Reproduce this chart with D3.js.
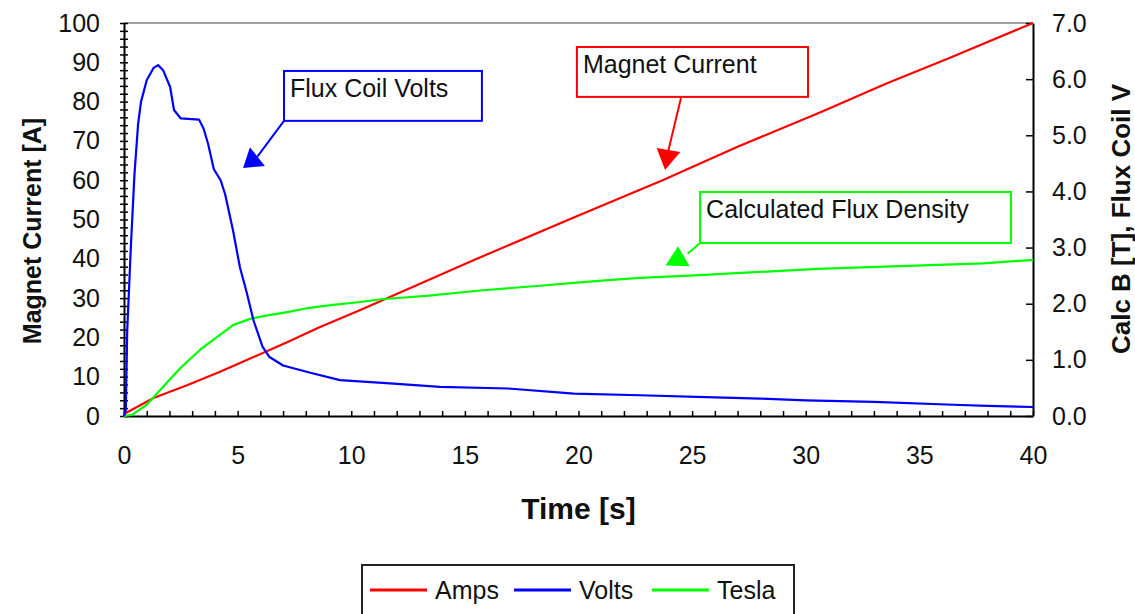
<!DOCTYPE html>
<html>
<head>
<meta charset="utf-8">
<script src="https://cdn.jsdelivr.net/npm/d3@7"></script>
<style>
  body { margin: 0; background: #fff; }
  svg text { font-family: "Liberation Sans", Arial, sans-serif; fill: #111; }
</style>
</head>
<body>
<div id="chart"></div>
<script>
// values
var tAmps = [0, 1.3, 2.8, 4.2, 5.7, 7.2, 8.6, 10.4, 15.4, 20, 23.7, 27, 30.7, 33.5, 36.4, 40];
var amps  = [0.5, 4.6, 7.9, 11.2, 15, 18.8, 22.6, 27, 39.7, 51, 60, 68.5, 77.4, 84.5, 91.3, 100];

var tVolts = [0, 0.08, 0.14, 0.3, 0.46, 0.62, 0.75, 1.0, 1.3, 1.5, 1.72, 2.03, 2.2,
              2.5, 3.3, 3.5, 3.7, 3.95, 4.25, 4.45, 4.8, 5.1, 5.4, 5.7, 6.1, 6.4, 7.0, 8.2,
              9.5, 11.7, 13.9, 16.9, 19.8, 22.7, 25.2, 28, 30, 33, 36.5, 38, 40];
var volts  = [0, 0.1, 1.5, 3.0, 4.3, 5.2, 5.6, 5.98, 6.2, 6.25, 6.16, 5.86, 5.45,
              5.3, 5.28, 5.12, 4.85, 4.4, 4.2, 3.95, 3.3, 2.65, 2.2, 1.7, 1.23, 1.05, 0.9, 0.77,
              0.64, 0.58, 0.52, 0.49, 0.40, 0.37, 0.34, 0.31, 0.28, 0.25, 0.2, 0.18, 0.16];

var tTesla = [0, 0.35, 1.0, 1.72, 2.47, 3.35, 4.1, 4.8, 5.55, 6.12, 7.18, 8.06, 9.2, 10.4,
              11.3, 13.3, 15.8, 18.3, 19.8, 21.3, 22.7, 24.9, 30.5, 37.8, 40];
var tesla  = [0, 0.02, 0.2, 0.52, 0.85, 1.18, 1.41, 1.62, 1.73, 1.78, 1.85, 1.92, 1.98, 2.03,
              2.08, 2.14, 2.24, 2.32, 2.37, 2.42, 2.46, 2.5, 2.62, 2.72, 2.78];

var seriesNames = ["Amps", "Volts", "Tesla"];
var seriesColors = ["#ff0000", "#0000ff", "#00ff00"];

var xTicks = d3.range(0, 41, 5);
var yLeftTicks = d3.range(0, 101, 10);
var yRightTicks = d3.range(0, 7.01, 1);

// callouts, in seconds / amps (left axis units)
var notes = [
  {text: "Flux Coil Volts", color: "#0000ff", box: [7.04, 87.8, 15.75, 75.1],
   from: [7.04, 75.1], to: [5.87, 66.0], tip: [5.24, 63.1], base: [5.87, 66.0]},
  {text: "Magnet Current", color: "#ff0000", box: [19.93, 93.9, 30.1, 81.2],
   from: [24.51, 80.9], to: [23.96, 67.7], tip: [23.81, 62.6], base: [23.96, 67.7]},
  {text: "Calculated Flux Density", color: "#00ff00", box: [25.35, 57.0, 39.03, 44.0],
   from: [25.35, 44.0], to: [24.8, 41.3], tip: [24.38, 43.2], base: [24.36, 38.2]}
];

var W = 1135, H = 614;
var plotLeft = 124, plotRight = 1033, plotTop = 23, plotBottom = 416;

var svg = d3.select("#chart").append("svg")
    .attr("width", W)
    .attr("height", H);

var x = d3.scaleLinear().domain([0, 40]).range([plotLeft, plotRight]);
var yL = d3.scaleLinear().domain([0, 100]).range([plotBottom, plotTop]);
var yR = d3.scaleLinear().domain([0, 7]).range([plotBottom, plotTop]);

// top border of plot area
svg.append("line")
    .attr("x1", plotLeft).attr("x2", plotRight)
    .attr("y1", plotTop).attr("y2", plotTop)
    .attr("stroke", "#808080").attr("stroke-width", 1.5);

// left axis
var gl = svg.append("g")
    .attr("transform", "translate(" + plotLeft + ",0)")
    .call(d3.axisLeft(yL).tickValues(yLeftTicks).tickSize(0).tickPadding(24).tickSizeOuter(0));
gl.selectAll("text").style("font-size", "25px");
var glm = svg.append("g")
    .attr("transform", "translate(" + plotLeft + ",0)")
    .call(d3.axisLeft(yL).tickValues(d3.range(0, 101, 2)).tickFormat("").tickSizeOuter(0));
glm.selectAll(".tick line").attr("x1", -4).attr("x2", 4).attr("stroke-width", 1.5);

// bottom axis
var gb = svg.append("g")
    .attr("transform", "translate(0," + plotBottom + ")")
    .call(d3.axisBottom(x).tickValues(xTicks).tickSize(0).tickPadding(30).tickSizeOuter(0));
gb.selectAll("text").style("font-size", "25px");
var gbm = svg.append("g")
    .attr("transform", "translate(0," + plotBottom + ")")
    .call(d3.axisBottom(x).tickValues(d3.range(0, 41, 1)).tickFormat("").tickSize(-5).tickSizeOuter(0));
gbm.selectAll(".tick line").attr("stroke-width", 1.5);

// right axis
var gr = svg.append("g")
    .attr("transform", "translate(" + plotRight + ",0)")
    .call(d3.axisRight(yR).tickValues(yRightTicks).tickFormat(d3.format(".1f"))
        .tickSize(-7).tickPadding(19).tickSizeOuter(0));
gr.selectAll("text").style("font-size", "25px");
gr.selectAll(".tick line").attr("stroke-width", 1.5);

[gl, gb, gr].forEach(function(g) {
    g.select(".domain").attr("stroke", "#000").attr("stroke-width", 2);
});
glm.select(".domain").remove();
gbm.select(".domain").remove();

// titles
svg.append("text")
    .attr("transform", "translate(32,231) rotate(-90)")
    .attr("text-anchor", "middle")
    .attr("dominant-baseline", "central")
    .style("font-size", "25px").style("font-weight", "bold")
    .text("Magnet Current [A]");

svg.append("text")
    .attr("transform", "translate(1121,219) rotate(-90)")
    .attr("text-anchor", "middle")
    .attr("dominant-baseline", "central")
    .style("font-size", "26px").style("font-weight", "bold")
    .text("Calc B [T], Flux Coil V");

svg.append("text")
    .attr("x", (plotLeft + plotRight) / 2)
    .attr("y", 519)
    .attr("text-anchor", "middle")
    .style("font-size", "30px").style("font-weight", "bold")
    .text("Time [s]");

// lines
function series(ts, vs) {
    return ts.map(function(t, i) { return {t: t, v: vs[i]}; });
}
var lineL = d3.line().x(function(d) { return x(d.t); }).y(function(d) { return yL(d.v); });
var lineR = d3.line().x(function(d) { return x(d.t); }).y(function(d) { return yR(d.v); });

var plots = [
    {data: series(tAmps, amps), line: lineL, color: seriesColors[0]},
    {data: series(tTesla, tesla), line: lineR, color: seriesColors[2]},
    {data: series(tVolts, volts), line: lineR, color: seriesColors[1]}
];
svg.selectAll(".series")
    .data(plots)
    .enter().append("path")
    .attr("class", "series")
    .attr("fill", "none")
    .attr("stroke", function(d) { return d.color; })
    .attr("stroke-width", 2.2)
    .attr("stroke-linejoin", "round")
    .attr("d", function(d) { return d.line(d.data); });

// callouts
var ng = svg.selectAll(".note")
    .data(notes)
    .enter().append("g")
    .attr("class", "note");

ng.append("rect")
    .attr("x", function(d) { return x(d.box[0]); })
    .attr("y", function(d) { return yL(d.box[1]); })
    .attr("width", function(d) { return x(d.box[2]) - x(d.box[0]); })
    .attr("height", function(d) { return yL(d.box[3]) - yL(d.box[1]); })
    .attr("fill", "#fff")
    .attr("stroke", function(d) { return d.color; })
    .attr("stroke-width", 2);

ng.append("text")
    .attr("x", function(d) { return x(d.box[0]) + 6; })
    .attr("y", function(d) { return yL(d.box[1]) + 26; })
    .style("font-size", "25px")
    .text(function(d) { return d.text; });

ng.append("line")
    .attr("x1", function(d) { return x(d.from[0]); })
    .attr("y1", function(d) { return yL(d.from[1]); })
    .attr("x2", function(d) { return x(d.to[0]); })
    .attr("y2", function(d) { return yL(d.to[1]); })
    .attr("stroke", function(d) { return d.color; })
    .attr("stroke-width", 2);

ng.append("path")
    .attr("fill", function(d) { return d.color; })
    .attr("d", function(d) {
        var tx = x(d.tip[0]), ty = yL(d.tip[1]);
        var bx = x(d.base[0]), by = yL(d.base[1]);
        var dx = tx - bx, dy = ty - by, len = Math.sqrt(dx * dx + dy * dy);
        var nx = -dy / len * 12, ny = dx / len * 12;
        return "M" + tx + "," + ty + "L" + (bx + nx) + "," + (by + ny) +
               "L" + (bx - nx) + "," + (by - ny) + "Z";
    });

// legend
var lg = svg.append("g");
lg.append("rect")
    .attr("x", 362).attr("y", 565)
    .attr("width", 432).attr("height", 70)
    .attr("fill", "#fff").attr("stroke", "#222").attr("stroke-width", 2);

var legendX = [370, 514, 652];
var items = lg.selectAll(".item")
    .data(seriesNames)
    .enter().append("g")
    .attr("class", "item")
    .attr("transform", function(d, i) { return "translate(" + legendX[i] + ",590)"; });
items.append("line")
    .attr("x1", 0).attr("x2", 57)
    .attr("stroke", function(d, i) { return seriesColors[i]; })
    .attr("stroke-width", 3);
items.append("text")
    .attr("x", 65).attr("y", 9)
    .style("font-size", "25px")
    .text(function(d) { return d; });
</script>
</body>
</html>
